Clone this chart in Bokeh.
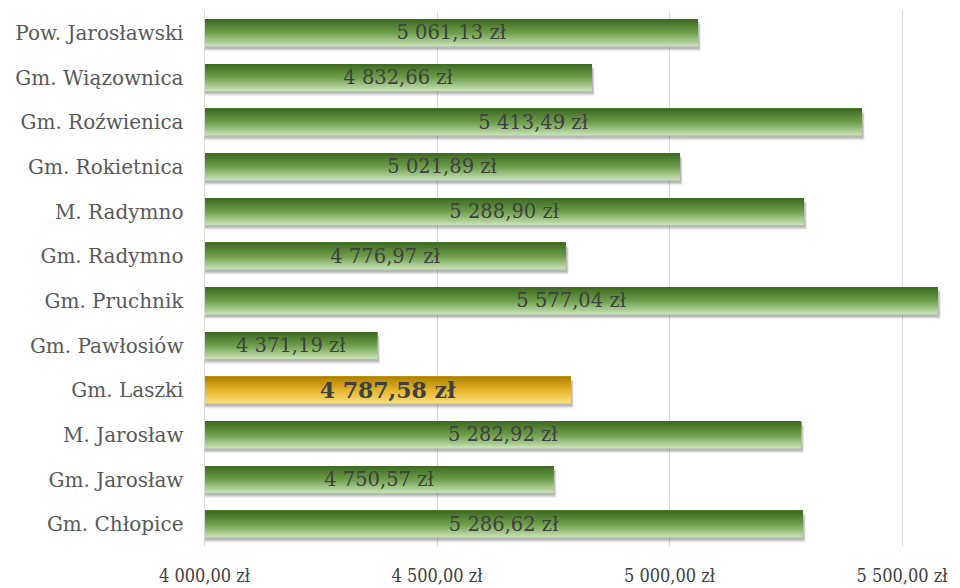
from bokeh.plotting import figure
from bokeh.models import ColumnDataSource, FactorRange, Range1d, FixedTicker
from bokeh.transform import dodge
from bokeh.embed import file_html
from bokeh.resources import INLINE
from bokeh.core.properties import value

# ---- data (top to bottom as shown) ----
categories = ["Pow. Jarosławski", "Gm. Wiązownica", "Gm. Roźwienica", "Gm. Rokietnica",
              "M. Radymno", "Gm. Radymno", "Gm. Pruchnik", "Gm. Pawłosiów",
              "Gm. Laszki", "M. Jarosław", "Gm. Jarosław", "Gm. Chłopice"]
values = [5061.13, 4832.66, 5413.49, 5021.89, 5288.90, 4776.97, 5577.04, 4371.19,
          4787.58, 5282.92, 4750.57, 5286.62]
highlight = "Gm. Laszki"
axis_min = 4000
axis_max = 5600
tick_values = [4000, 4500, 5000, 5500]
tick_labels = ["4 000,00 zł", "4 500,00 zł", "5 000,00 zł", "5 500,00 zł"]


def fmt(v):
    return f"{v:,.2f}".replace(",", " ").replace(".", ",") + " zł"


def hex2rgb(h):
    h = h.lstrip("#")
    return tuple(int(h[i:i + 2], 16) for i in (0, 2, 4))


def mix(c1, c2, t):
    a, b = hex2rgb(c1), hex2rgb(c2)
    return "#%02x%02x%02x" % tuple(round(a[i] + (b[i] - a[i]) * t) for i in range(3))


def ramp(stops, n):
    out = []
    for i in range(n):
        t = i / (n - 1)
        seg = min(int(t * (len(stops) - 1)), len(stops) - 2)
        lt = t * (len(stops) - 1) - seg
        out.append(mix(stops[seg], stops[seg + 1], lt))
    return out


factors = list(reversed(categories))
green = [c for c in categories if c != highlight]
green_v = [v for c, v in zip(categories, values) if c != highlight]
gold = [c for c in categories if c == highlight]
gold_v = [v for c, v in zip(categories, values) if c == highlight]

p = figure(width=960, height=588, y_range=FactorRange(*factors, range_padding=0),
           x_range=Range1d(axis_min, axis_max), output_backend="svg",
           toolbar_location=None, min_border_left=204, min_border_right=12,
           min_border_top=10, min_border_bottom=40)
p.outline_line_color = None
p.background_fill_color = "white"
p.ygrid.grid_line_color = None
p.xgrid.grid_line_color = "#d9d9d9"
p.xgrid.ticker = FixedTicker(ticks=tick_values)

bar_h = 0.6

# soft shadows (below and slightly right of each bar)
for off, extra, a in [(-0.11, 6, 0.10), (-0.085, 5, 0.16), (-0.06, 3, 0.24)]:
    ssrc = ColumnDataSource(dict(cat=categories, right=[v + extra for v in values],
                                 left=[axis_min] * len(values)))
    p.hbar(y=dodge("cat", off, range=p.y_range), left="left", right="right",
           height=bar_h, source=ssrc, fill_color="#5a5a5a", fill_alpha=a,
           line_color=None)

# gradient bars: painted from full bar (lightest) to top strip (darkest)
N = 24
green_cols = ramp(["#3e6b21", "#6e9e4c", "#c6e2b4"], N)
gold_cols = ramp(["#b08200", "#e5b42c", "#f9dc78"], N)
sh = bar_h / N
gsrc = ColumnDataSource(dict(cat=green, val=green_v, left=[axis_min] * len(green)))
ysrc = ColumnDataSource(dict(cat=gold, val=gold_v, left=[axis_min] * len(gold)))
for i in range(N - 1, -1, -1):
    hh = (i + 1) * sh
    off = bar_h / 2 - hh / 2
    p.hbar(y=dodge("cat", off, range=p.y_range), left="left", right="val",
           height=hh, source=gsrc, fill_color=green_cols[i], line_color=None)
    p.hbar(y=dodge("cat", off, range=p.y_range), left="left", right="val",
           height=hh, source=ysrc, fill_color=gold_cols[i], line_color=None)

# labels
lsrc = ColumnDataSource(dict(cat=green, x=[(axis_min + v) / 2 for v in green_v],
                             txt=[fmt(v) for v in green_v]))
p.text(x="x", y="cat", text="txt", source=lsrc, text_align="center",
       text_baseline="middle", text_font=value("DejaVu Serif"),
       text_font_size="19.5px", text_color="#404040")
hsrc = ColumnDataSource(dict(cat=gold, x=[(axis_min + v) / 2 for v in gold_v],
                             txt=[fmt(v) for v in gold_v]))
p.text(x="x", y="cat", text="txt", source=hsrc, text_align="center",
       text_baseline="middle", text_font=value("DejaVu Serif"),
       text_font_size="22px", text_font_style="bold", text_color="#404040")

# axes
ya = p.yaxis[0]
ya.axis_line_color = "#d9d9d9"
ya.major_tick_line_color = None
ya.minor_tick_line_color = None
ya.major_tick_out = 0
ya.major_tick_in = 0
ya.major_label_standoff = 21
ya.major_label_text_font = "DejaVu Serif"
ya.major_label_text_font_size = "20px"
ya.major_label_text_color = "#595959"

xa = p.xaxis[0]
xa.ticker = FixedTicker(ticks=tick_values)
xa.major_label_overrides = dict(zip(tick_values, tick_labels))
xa.axis_line_color = None
xa.major_tick_line_color = None
xa.minor_tick_line_color = None
xa.major_tick_out = 0
xa.major_tick_in = 0
xa.major_label_standoff = 18
xa.major_label_text_font = "DejaVu Serif Condensed"
xa.major_label_text_font_size = "18px"
xa.major_label_text_color = "#404040"

open("out.html", "w").write(file_html(p, INLINE))
